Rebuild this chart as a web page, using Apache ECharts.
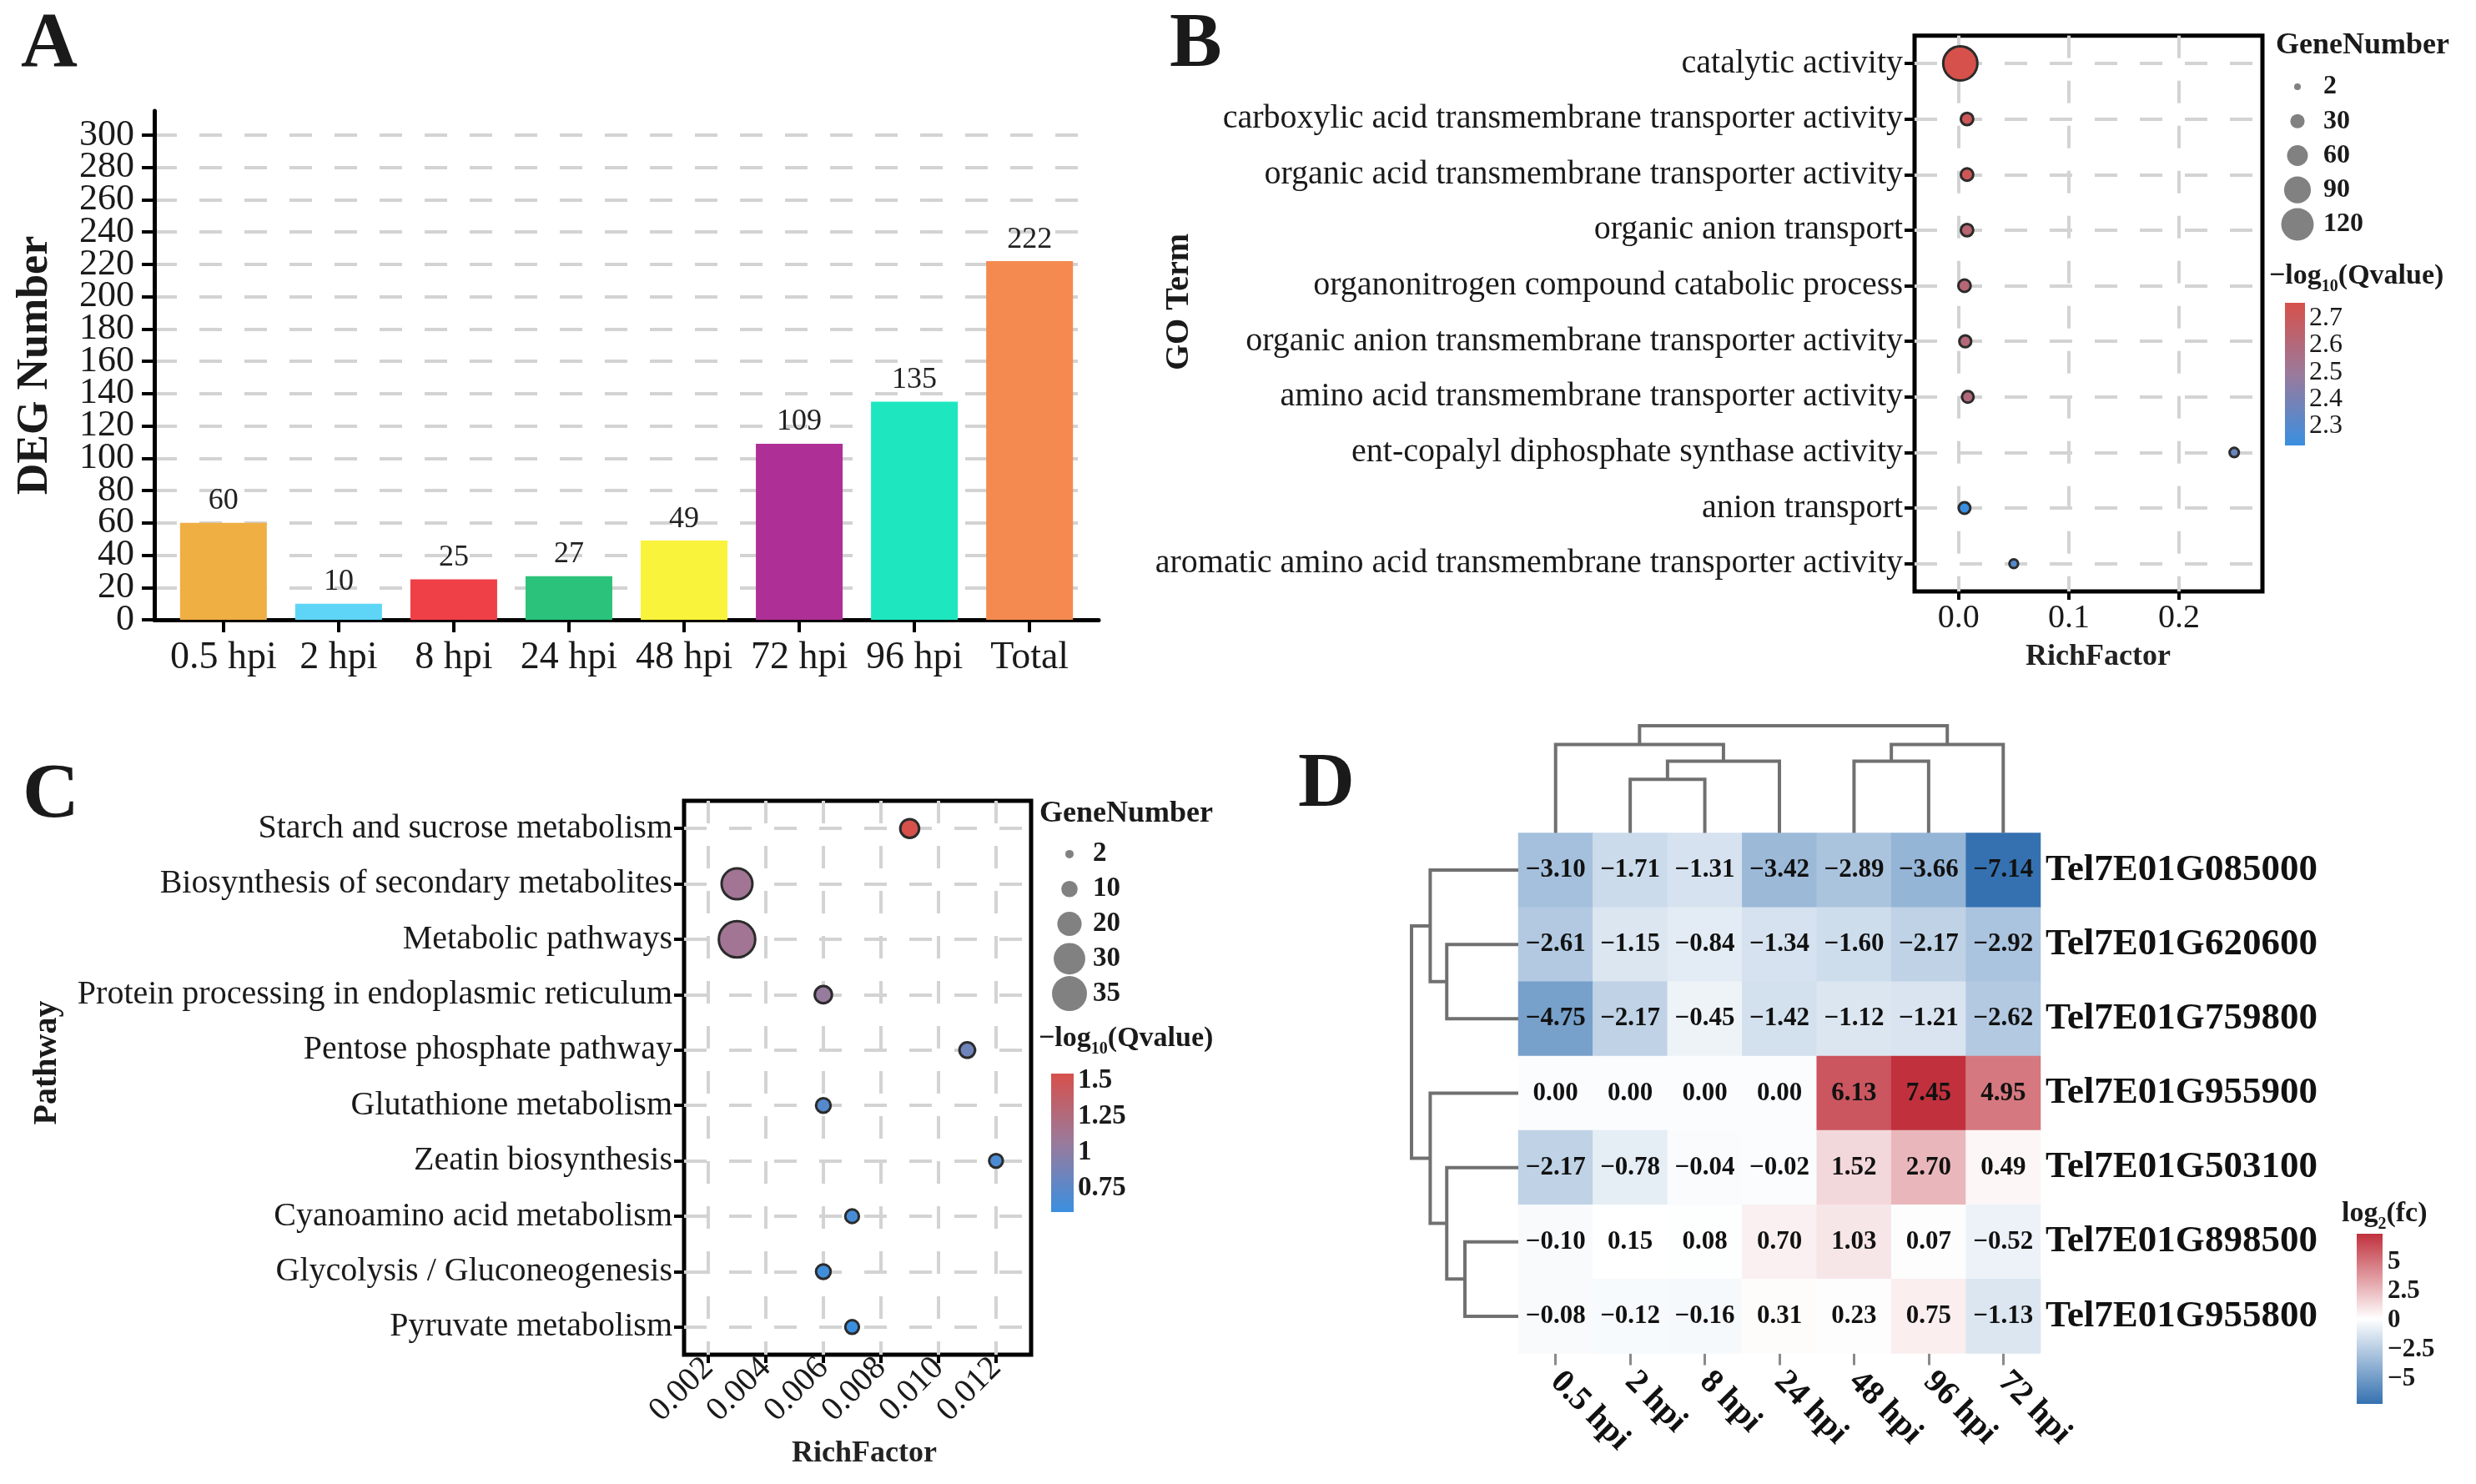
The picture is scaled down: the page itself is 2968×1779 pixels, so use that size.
<!DOCTYPE html>
<html><head><meta charset="utf-8">
<script src="https://cdn.jsdelivr.net/npm/echarts@6/dist/echarts.min.js"></script>
<style>html,body{margin:0;padding:0;background:#fff}#c{width:2968px;height:1779px}</style>
</head><body><div id="c"></div>
<script>
// ---------- Panel A : DEG numbers ----------
const degCategories = ['0.5 hpi','2 hpi','8 hpi','24 hpi','48 hpi','72 hpi','96 hpi','Total'];
const degCounts = [60, 10, 25, 27, 49, 109, 135, 222];
const degTicks = [0,20,40,60,80,100,120,140,160,180,200,220,240,260,280,300];
const degColors = ['#EFAF43','#5ED5F6','#EE4046','#2BC27B','#FAF33C','#AE2F96','#1EE7C0','#F48A50'];

// ---------- Panel B : GO enrichment ----------
const goTerms = ['catalytic activity','carboxylic acid transmembrane transporter activity','organic acid transmembrane transporter activity','organic anion transport','organonitrogen compound catabolic process','organic anion transmembrane transporter activity','amino acid transmembrane transporter activity','ent-copalyl diphosphate synthase activity','anion transport','aromatic amino acid transmembrane transporter activity'];
const goRichFactor = [0.0015, 0.0076, 0.0076, 0.0076, 0.0053, 0.0060, 0.0083, 0.25, 0.0053, 0.05];
const goGeneNumber = [129, 22, 22, 22, 22, 20, 19, 10, 19, 8];
const goQvalue = [2.758, 2.72, 2.72, 2.63, 2.62, 2.61, 2.60, 2.36, 2.229, 2.30];
const goXTicks = [0, 0.1, 0.2];
const goSizeBreaks = [2, 30, 60, 90, 120];
const goQTicks = [2.3, 2.4, 2.5, 2.6, 2.7];

// ---------- Panel C : KEGG enrichment ----------
const keggPathways = ['Starch and sucrose metabolism','Biosynthesis of secondary metabolites','Metabolic pathways','Protein processing in endoplasmic reticulum','Pentose phosphate pathway','Glutathione metabolism','Zeatin biosynthesis','Cyanoamino acid metabolism','Glycolysis / Gluconeogenesis','Pyruvate metabolism'];
const keggRichFactor = [0.009, 0.003, 0.003, 0.006, 0.011, 0.006, 0.012, 0.007, 0.006, 0.007];
const keggGeneNumber = [13, 29, 37, 11, 9, 8, 7, 7, 8, 7];
const keggQvalue = [1.546, 1.12, 1.12, 1.05, 0.85, 0.72, 0.68, 0.66, 0.62, 0.588];
const keggXTicks = [0.002, 0.004, 0.006, 0.008, 0.010, 0.012];
const keggSizeBreaks = [2, 10, 20, 30, 35];
const keggQTicks = [0.75, 1, 1.25, 1.5];

// ---------- Panel D : heatmap ----------
const hmTimes = ['0.5 hpi','2 hpi','8 hpi','24 hpi','48 hpi','96 hpi','72 hpi'];
const hmGenes = ['Tel7E01G085000','Tel7E01G620600','Tel7E01G759800','Tel7E01G955900','Tel7E01G503100','Tel7E01G898500','Tel7E01G955800'];
const hmRow1 = [-3.10, -1.71, -1.31, -3.42, -2.89, -3.66, -7.14];
const hmRow2 = [-2.61, -1.15, -0.84, -1.34, -1.60, -2.17, -2.92];
const hmRow3 = [-4.75, -2.17, -0.45, -1.42, -1.12, -1.21, -2.62];
const hmRow4 = [0.00, 0.00, 0.00, 0.00, 6.13, 7.45, 4.95];
const hmRow5 = [-2.17, -0.78, -0.04, -0.02, 1.52, 2.70, 0.49];
const hmRow6 = [-0.10, 0.15, 0.08, 0.70, 1.03, 0.07, -0.52];
const hmRow7 = [-0.08, -0.12, -0.16, 0.31, 0.23, 0.75, -1.13];
const hmLegendTicks = [-5, -2.5, 0, 2.5, 5];
// dendrograms: leaves 0..6, internal node k = 7 + merge index
const colMergeA = [1, 7, 0, 4, 10, 9];
const colMergeB = [2, 3, 8, 5, 6, 11];
const colHeights = [1.0, 1.34, 1.65, 1.34, 1.65, 2.0];
const rowMergeA = [1, 0, 5, 4, 3, 8];
const rowMergeB = [2, 7, 6, 9, 10, 11];
const rowHeights = [1.34, 1.65, 1.0, 1.34, 1.65, 2.0];

// ---------- helpers ----------
const FONT = "'Liberation Serif','Times New Roman',serif";
const TXT = '#1a1a1a';
const hmValues = [hmRow1, hmRow2, hmRow3, hmRow4, hmRow5, hmRow6, hmRow7];
const hmMin = Math.min(...hmValues.flat()), hmMax = Math.max(...hmValues.flat());
const goQMin = Math.min(...goQvalue), goQMax = Math.max(...goQvalue);
const keggQMin = Math.min(...keggQvalue), keggQMax = Math.max(...keggQvalue);
const minus = v => (v < 0 ? '\u2212' : '') + Math.abs(v);
const fmt2 = v => (v < 0 ? '\u2212' : '') + Math.abs(v).toFixed(2);
const idx = arr => arr.map((_, i) => i + 1);
const degTicksEven = degTicks.filter((_, i) => i % 2 === 0);
const degTicksOdd = degTicks.filter((_, i) => i % 2 === 1);
const sizeB = v => 8 + 31 * Math.pow(Math.max(v - 2, 0) / 118, 0.85);
const sizeC = v => 10 + 32 * Math.pow(Math.max(v - 2, 0) / 33, 0.85);
const qStops = ['#3A8FE0', '#9A7A9C', '#D6514B'];
const gridLine = {show: true, lineStyle: {color: '#D3D3D3', width: 4, type: [27, 27]}};
const noLine = {show: false, onZero: false};

function dendro(n, A, B, H) {
  const pos = [], ht = [], segs = [];
  for (let i = 0; i < n; i++) { pos[i] = i; ht[i] = 0; }
  A.forEach((a, k) => {
    const b = B[k], h = H[k];
    segs.push([[pos[a], ht[a]], [pos[a], h], [pos[b], h], [pos[b], ht[b]]]);
    pos[n + k] = (pos[a] + pos[b]) / 2; ht[n + k] = h;
  });
  return segs;
}
const colSegs = dendro(hmTimes.length, colMergeA, colMergeB, colHeights);
const rowSegs = dendro(hmGenes.length, rowMergeA, rowMergeB, rowHeights).map(s => s.map(p => [p[1], p[0]]));

function colorbar(stopsTopToBottom) {
  return function (params, api) {
    const cs = params.coordSys;
    const top = api.coord([0, api.value(2)]);
    const bot = api.coord([0, api.value(1)]);
    const n = stopsTopToBottom.length;
    return {type: 'rect', shape: {x: cs.x, y: top[1], width: cs.width, height: bot[1] - top[1]},
      style: {fill: new echarts.graphic.LinearGradient(0, 0, 0, 1,
        stopsTopToBottom.map((c, i) => ({offset: i / (n - 1), color: c})))}};
  };
}
const lbl = (extra) => Object.assign({fontFamily: FONT, color: TXT, showMinLabel: true, showMaxLabel: true, hideOverlap: false}, extra);
const hidden = (gi, o) => Object.assign({gridIndex: gi, show: false, axisLine: {onZero: false}}, o);
function barAxis(gi, min, max, pos, ticks, labelOpt) {
  return {gridIndex: gi, type: 'value', min, max, position: pos,
    axisLine: noLine, splitLine: {show: false},
    axisTick: {show: true, inside: true, length: 5, customValues: ticks, lineStyle: {color: '#fff', width: 2}},
    axisLabel: labelOpt ? Object.assign({customValues: ticks}, labelOpt) : {show: false}};
}

const chart = echarts.init(document.getElementById('c'), null, {renderer: 'canvas'});
const option = {
  animation: false,
  backgroundColor: '#fff',
  grid: [
    {left: 185, top: 133, width: 1132, height: 610},                       // 0 A
    {left: 2295, top: 42.7, width: 417, height: 666.3, show: true, borderColor: '#000', borderWidth: 5, backgroundColor: 'transparent'}, // 1 B
    {left: 2731, top: 83.5, width: 46, height: 206},                      // 2 B size legend
    {left: 2739, top: 363, width: 24, height: 171},                       // 3 B colorbar
    {left: 820, top: 960, width: 416, height: 664, show: true, borderColor: '#000', borderWidth: 5, backgroundColor: 'transparent'}, // 4 C
    {left: 1262, top: 1003, width: 40, height: 209},                      // 5 C size legend
    {left: 1260, top: 1287, width: 27, height: 166},                      // 6 C colorbar
    {left: 1820, top: 998.5, width: 626, height: 624},                    // 7 D heatmap
    {left: 1820, top: 870, width: 626, height: 128.5},                    // 8 D column dendrogram
    {left: 1692, top: 998.5, width: 128, height: 624},                    // 9 D row dendrogram
    {left: 2825, top: 1479, width: 31, height: 204}                       // 10 D colorbar
  ],
  xAxis: [
    {gridIndex: 0, type: 'value', min: 0.4, max: 8.6,
      axisLine: {show: true, onZero: false, lineStyle: {color: '#000', width: 5}},
      axisTick: {show: true, length: 15, customValues: idx(degCategories), lineStyle: {color: '#000', width: 4}},
      axisLabel: lbl({customValues: idx(degCategories), formatter: v => degCategories[Math.round(v) - 1], fontSize: 46, margin: 23}),
      splitLine: {show: false}},
    {gridIndex: 1, type: 'value', min: -0.04, max: 0.2756,
      axisLine: noLine,
      axisTick: {show: true, length: 10, customValues: goXTicks, lineStyle: {color: '#000', width: 4}},
      axisLabel: lbl({customValues: goXTicks, formatter: v => v.toFixed(1), fontSize: 40, margin: 12}),
      splitLine: gridLine},
    hidden(2, {type: 'value', min: 0, max: 1}),
    hidden(3, {type: 'value', min: 0, max: 1}),
    {gridIndex: 4, type: 'value', min: 0.00116, max: 0.01322,
      axisLine: noLine,
      axisTick: {show: true, length: 10, customValues: keggXTicks, lineStyle: {color: '#000', width: 4}},
      axisLabel: lbl({customValues: keggXTicks, formatter: v => v.toFixed(3), fontSize: 40, rotate: 45, margin: 10}),
      splitLine: gridLine},
    hidden(5, {type: 'value', min: 0, max: 1}),
    hidden(6, {type: 'value', min: 0, max: 1}),
    {gridIndex: 7, type: 'category', data: hmTimes, position: 'bottom',
      axisLine: noLine,
      axisTick: {show: true, alignWithLabel: true, length: 14, lineStyle: {color: '#8a8a8a', width: 3}},
      axisLabel: lbl({rotate: -45, fontSize: 40, fontWeight: 'bold', margin: 28, color: '#111', interval: 0})},
    hidden(8, {type: 'value', min: -0.5, max: 6.5}),
    hidden(9, {type: 'value', min: 0, max: 2, inverse: true}),
    hidden(10, {type: 'value', min: 0, max: 1})
  ],
  yAxis: [
    {gridIndex: 0, type: 'value', min: 0, max: 315, position: 'left',
      axisLine: {show: true, onZero: false, lineStyle: {color: '#000', width: 5}},
      axisTick: {show: true, length: 15, customValues: degTicks, lineStyle: {color: '#000', width: 4}},
      axisLabel: lbl({customValues: degTicksEven, fontSize: 44, margin: 24}),
      splitLine: gridLine},
    {gridIndex: 1, type: 'value', min: 0.5, max: 10.5, inverse: true,
      axisLine: noLine,
      axisTick: {show: true, length: 12, customValues: idx(goTerms), lineStyle: {color: '#000', width: 4}},
      axisLabel: lbl({customValues: idx(goTerms), formatter: v => goTerms[Math.round(v) - 1], fontSize: 40, margin: 14}),
      splitLine: gridLine},
    {gridIndex: 2, type: 'category', data: goSizeBreaks.map(String), inverse: true, position: 'right',
      axisLine: noLine, axisTick: {show: false},
      axisLabel: lbl({fontSize: 32, fontWeight: 'bold', margin: 8, align: 'left', interval: 0})},
    barAxis(3, goQMin, goQMax, 'right', goQTicks, lbl({fontSize: 32, lineHeight: 26, margin: 5, formatter: v => v.toFixed(1)})),
    barAxis(3, goQMin, goQMax, 'left', goQTicks, null),
    {gridIndex: 4, type: 'value', min: 0.5, max: 10.5, inverse: true,
      axisLine: noLine,
      axisTick: {show: true, length: 12, customValues: idx(keggPathways), lineStyle: {color: '#000', width: 4}},
      axisLabel: lbl({customValues: idx(keggPathways), formatter: v => keggPathways[Math.round(v) - 1], fontSize: 40, margin: 14}),
      splitLine: gridLine},
    {gridIndex: 5, type: 'category', data: keggSizeBreaks.map(String), inverse: true, position: 'right',
      axisLine: noLine, axisTick: {show: false},
      axisLabel: lbl({fontSize: 33, fontWeight: 'bold', margin: 8, align: 'left', interval: 0})},
    barAxis(6, keggQMin, keggQMax, 'right', keggQTicks, lbl({fontSize: 33, lineHeight: 30, fontWeight: 'bold', margin: 5, formatter: v => String(v)})),
    barAxis(6, keggQMin, keggQMax, 'left', keggQTicks, null),
    {gridIndex: 7, type: 'category', data: hmGenes, inverse: true, position: 'right',
      axisLine: noLine, axisTick: {show: false},
      axisLabel: lbl({fontSize: 45, fontWeight: 'bold', margin: 6, color: '#111', interval: 0})},
    hidden(8, {type: 'value', min: 0, max: 2}),
    hidden(9, {type: 'value', min: -0.5, max: 6.5, inverse: true}),
    barAxis(10, hmMin, hmMax, 'right', hmLegendTicks, lbl({fontSize: 31, lineHeight: 28, fontWeight: 'bold', margin: 6, formatter: minus})),
    barAxis(10, hmMin, hmMax, 'left', hmLegendTicks, null),
    // 14: second label layer for panel A (alternate tick labels)
    {gridIndex: 0, type: 'value', min: 0, max: 315, position: 'left',
      axisLine: noLine, axisTick: {show: false}, splitLine: {show: false},
      axisLabel: lbl({customValues: degTicksOdd, fontSize: 44, margin: 24})}
  ],
  visualMap: [
    {type: 'continuous', show: false, seriesIndex: 1, dimension: 2, min: goQMin, max: goQMax, inRange: {color: qStops}},
    {type: 'continuous', show: false, seriesIndex: 4, dimension: 2, min: keggQMin, max: keggQMax, inRange: {color: qStops}},
    {type: 'continuous', show: false, seriesIndex: 7, dimension: 2, min: hmMin, max: hmMax, inRange: {color: ['#3571B0', '#FFFFFF', '#C0313D']}}
  ],
  series: [
    // 0 A bars
    {type: 'bar', xAxisIndex: 0, yAxisIndex: 0, barWidth: 104,
      data: degCounts.map((v, i) => [i + 1, v]),
      itemStyle: {color: p => degColors[p.dataIndex]},
      label: {show: true, position: 'top', distance: 8, fontSize: 36, fontFamily: FONT, color: '#222'}},
    // 1 B bubbles
    {type: 'scatter', xAxisIndex: 1, yAxisIndex: 1,
      data: goTerms.map((t, i) => [goRichFactor[i], i + 1, goQvalue[i], goGeneNumber[i]]),
      symbolSize: d => sizeB(d[3]), itemStyle: {borderColor: '#2b2b2b', borderWidth: 3, opacity: 1}},
    // 2 B size legend
    {type: 'scatter', xAxisIndex: 2, yAxisIndex: 2,
      data: goSizeBreaks.map((v, i) => [0.5, i, v]), symbolSize: d => sizeB(d[2]), itemStyle: {color: '#616161'}},
    // 3 B colorbar
    {type: 'custom', xAxisIndex: 3, yAxisIndex: 3, data: [[0, goQMin, goQMax]], renderItem: colorbar(qStops.slice().reverse())},
    // 4 C bubbles
    {type: 'scatter', xAxisIndex: 4, yAxisIndex: 5,
      data: keggPathways.map((t, i) => [keggRichFactor[i], i + 1, keggQvalue[i], keggGeneNumber[i]]),
      symbolSize: d => sizeC(d[3]), itemStyle: {borderColor: '#2b2b2b', borderWidth: 3, opacity: 1}},
    // 5 C size legend
    {type: 'scatter', xAxisIndex: 5, yAxisIndex: 6,
      data: keggSizeBreaks.map((v, i) => [0.5, i, v]), symbolSize: d => sizeC(d[2]), itemStyle: {color: '#616161'}},
    // 6 C colorbar
    {type: 'custom', xAxisIndex: 6, yAxisIndex: 7, data: [[0, keggQMin, keggQMax]], renderItem: colorbar(qStops.slice().reverse())},
    // 7 D heatmap
    {type: 'heatmap', xAxisIndex: 7, yAxisIndex: 9,
      data: hmValues.flatMap((row, r) => row.map((v, c) => [c, r, v])),
      label: {show: true, formatter: p => fmt2(p.value[2]), fontSize: 31, fontWeight: 'bold', fontFamily: FONT, color: '#111'},
      emphasis: {disabled: true}},
    // 8 column dendrogram
    {type: 'lines', coordinateSystem: 'cartesian2d', xAxisIndex: 8, yAxisIndex: 10, polyline: true, silent: true,
      data: colSegs.map(c => ({coords: c})), lineStyle: {color: '#707070', width: 4, opacity: 1}},
    // 9 row dendrogram
    {type: 'lines', coordinateSystem: 'cartesian2d', xAxisIndex: 9, yAxisIndex: 11, polyline: true, silent: true,
      data: rowSegs.map(c => ({coords: c})), lineStyle: {color: '#707070', width: 4, opacity: 1}},
    // 10 D colorbar
    {type: 'custom', xAxisIndex: 10, yAxisIndex: 12, data: [[0, hmMin, hmMax]], renderItem: colorbar(['#C0313D', '#FFFFFF', '#3571B0'])}
  ],
  graphic: []
};

function txt(x, y, text, font, opts) {
  return Object.assign({type: 'text', x, y, silent: true,
    style: {text, font, fill: TXT, align: 'left', verticalAlign: 'middle'}}, opts || {});
}
const F = (sz, w) => (w || 'bold') + ' ' + sz + 'px ' + FONT;
function qTitle(x, y) {
  return {type: 'text', x, y, silent: true, style: {
    text: '{a|\u2212log}{b|10}{a|(Qvalue)}', fill: TXT, align: 'left', verticalAlign: 'middle',
    rich: {a: {font: F(34), lineHeight: 46, fill: TXT}, b: {font: F(20), lineHeight: 20, verticalAlign: 'bottom', fill: TXT}}}};
}
option.graphic = [
  txt(25, 55, 'A', F(94)),
  txt(1402, 55, 'B', F(94)),
  txt(27, 955, 'C', F(94)),
  txt(1556, 942, 'D', F(94)),
  {type: 'text', x: 43, y: 438, rotation: Math.PI / 2, silent: true, style: {text: 'DEG Number', font: F(52), fill: TXT, align: 'center', verticalAlign: 'middle'}},
  {type: 'text', x: 1414, y: 362, rotation: Math.PI / 2, silent: true, style: {text: 'GO Term', font: F(40), fill: TXT, align: 'center', verticalAlign: 'middle'}},
  {type: 'text', x: 2515, y: 788, silent: true, style: {text: 'RichFactor', font: F(36), fill: '#222', align: 'center', verticalAlign: 'middle'}},
  {type: 'text', x: 57, y: 1274, rotation: Math.PI / 2, silent: true, style: {text: 'Pathway', font: F(40), fill: TXT, align: 'center', verticalAlign: 'middle'}},
  {type: 'text', x: 1036, y: 1743, silent: true, style: {text: 'RichFactor', font: F(36), fill: '#222', align: 'center', verticalAlign: 'middle'}},
  txt(2728, 55, 'GeneNumber', F(36)),
  txt(1246, 976, 'GeneNumber', F(36)),
  qTitle(2720, 331),
  qTitle(1245, 1245),
  {type: 'text', x: 2807, y: 1455, silent: true, style: {
    text: '{a|log}{b|2}{a|(fc)}', fill: TXT, align: 'left', verticalAlign: 'middle',
    rich: {a: {font: F(34), lineHeight: 46, fill: TXT}, b: {font: F(20), lineHeight: 20, verticalAlign: 'bottom', fill: TXT}}}}
];
chart.setOption(option);
</script></body></html>
